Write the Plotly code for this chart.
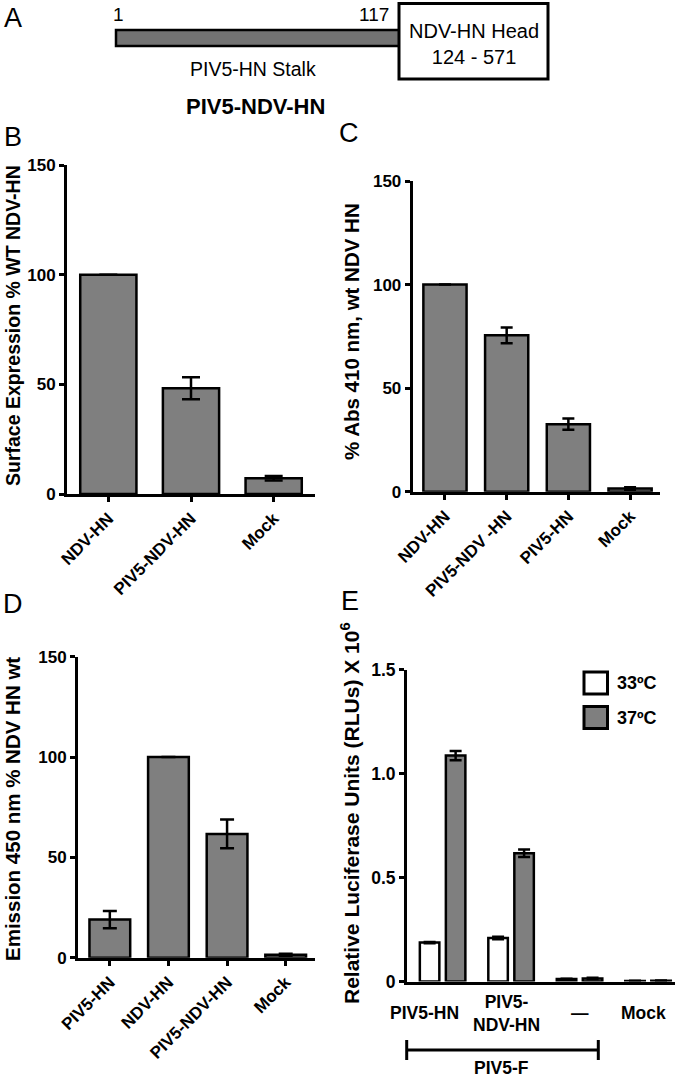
import plotly.graph_objects as go

W, H = 675, 1078
FONT = "Liberation Sans, Arial, sans-serif"

# ---------------- data ----------------
# Panel B: surface expression (% WT NDV-HN)
b_cats = ["NDV-HN", "PIV5-NDV-HN", "Mock"]
b_vals = [100, 48.2, 7.2]
b_err = [0, 5.0, 1.0]

# Panel C: % Abs 410 nm, wt NDV HN
c_cats = ["NDV-HN", "PIV5-NDV -HN", "PIV5-HN", "Mock"]
c_vals = [100, 75.5, 32.6, 1.6]
c_err = [0, 3.8, 2.7, 0.6]

# Panel D: Emission 450 nm % NDV HN wt
d_cats = ["PIV5-HN", "NDV-HN", "PIV5-NDV-HN", "Mock"]
d_vals = [19.0, 100, 61.7, 1.5]
d_err = [4.3, 0, 7.2, 0.5]

# Panel E: relative luciferase units (x 10^6)
e_cats = ["PIV5-HN", "PIV5-NDV-HN", "—", "Mock"]
e_labels = ["PIV5-HN", "PIV5-<br>NDV-HN", "—", "Mock"]
e_series = ["33ºC", "37ºC"]
e_33 = [0.188, 0.21, 0.012, 0.003]
e_33_err = [0.003, 0.006, 0.002, 0.001]
e_37 = [1.087, 0.617, 0.015, 0.004]
e_37_err = [0.022, 0.018, 0.003, 0.001]
e_group_label = "PIV5-F"

pct_ticks = [0, 50, 100, 150]
e_ticks = [0, 0.5, 1.0, 1.5]
e_ticklabels = ["0", "0.5", "1.0", "1.5"]

# Panel A schematic text
a_start, a_stalk_end = "1", "117"
a_head = "NDV-HN Head<br>124 - 571"
a_stalk = "PIV5-HN Stalk"
a_name = "PIV5-NDV-HN"

GRAY = "#7f7f7f"


def fx(p):
    return p / W


def fy(p):
    return 1 - p / H


fig = go.Figure()

bar_line = dict(color="black", width=2.5)


def err(arr, w):
    return dict(type="data", array=arr, visible=True, color="black", thickness=2.5, width=w)


fig.add_trace(go.Bar(x=b_cats, y=b_vals, width=0.68, marker=dict(color=GRAY, line=bar_line),
                     error_y=err(b_err, 9), xaxis="x", yaxis="y", showlegend=False))
fig.add_trace(go.Bar(x=c_cats, y=c_vals, width=0.70, marker=dict(color=GRAY, line=bar_line),
                     error_y=err(c_err, 6), xaxis="x2", yaxis="y2", showlegend=False))
fig.add_trace(go.Bar(x=d_cats, y=d_vals, width=0.695, marker=dict(color=GRAY, line=bar_line),
                     error_y=err(d_err, 7), xaxis="x3", yaxis="y3", showlegend=False))
fig.add_trace(go.Bar(x=e_cats, y=e_33, name=e_series[0], marker=dict(color="white", line=bar_line),
                     error_y=err(e_33_err, 6), xaxis="x4", yaxis="y4", showlegend=False))
fig.add_trace(go.Bar(x=e_cats, y=e_37, name=e_series[1], marker=dict(color=GRAY, line=bar_line),
                     error_y=err(e_37_err, 6), xaxis="x4", yaxis="y4", showlegend=False))

tickfont = dict(family=FONT, size=17, color="black", weight="bold")
common = dict(showline=True, linecolor="black", linewidth=3, showgrid=False, zeroline=False,
              ticks="outside", ticklen=5, tickwidth=2.5, tickcolor="black", tickfont=tickfont,
              automargin=False, fixedrange=True)

fig.update_layout(
    xaxis=dict(common, domain=[fx(67), fx(315)], anchor="y", type="category", range=[-0.5, 2.5],
               tickangle=-45),
    yaxis=dict(common, domain=[fy(494), fy(165)], anchor="x", range=[0, 150], tickvals=pct_ticks),
    xaxis2=dict(common, domain=[fx(412.7), fx(660)], anchor="y2", type="category",
                range=[-0.523, 3.485], tickangle=-45),
    yaxis2=dict(common, domain=[fy(491.7), fy(181)], anchor="x2", range=[0, 150], tickvals=pct_ticks),
    xaxis3=dict(common, domain=[fx(78), fx(315)], anchor="y3", type="category",
                range=[-0.543, 3.50], tickangle=-45),
    yaxis3=dict(common, domain=[fy(957.7), fy(656.7)], anchor="x3", range=[0, 150], tickvals=pct_ticks),
    xaxis4=dict(common, domain=[fx(407), fx(675)], anchor="y4", type="category",
                range=[-0.52, 3.394], ticks="", showticklabels=False),
    yaxis4=dict(common, domain=[fy(981.6), fy(669.7)], anchor="x4", range=[0, 1.5],
                tickvals=e_ticks, ticktext=e_ticklabels,
                tickfont=dict(family=FONT, size=17.5, color="black", weight="bold")),
)

fig.update_layout(
    width=W, height=H, margin=dict(l=0, r=0, t=0, b=0, autoexpand=False),
    paper_bgcolor="white", plot_bgcolor="white",
    barmode="group", bargap=0.24, bargroupgap=0.25,
    showlegend=False,
    font=dict(family=FONT, color="black"),
)

ann = []
shapes = []

# panel letters
for letter, x, y in [("A", 13, 18), ("B", 13, 137), ("C", 349, 133), ("D", 13, 604), ("E", 350, 601)]:
    ann.append(dict(text=letter, x=fx(x), y=fy(y), xref="paper", yref="paper", showarrow=False,
                    xanchor="center", yanchor="middle", font=dict(family=FONT, size=27, color="black")))

# axis titles
for text, x, y, size in [("Surface Expression % WT NDV-HN", 13, 326, 19.5),
                         ("% Abs 410 nm, wt NDV HN", 352, 331, 20.5),
                         ("Emission 450 nm % NDV HN wt", 12, 809, 20.5),
                         ("Relative Luciferase Units (RLUs) X 10<sup>6</sup>", 350, 813, 21)]:
    ann.append(dict(text=text, x=fx(x), y=fy(y), xref="paper", yref="paper", showarrow=False,
                    textangle=-90, xanchor="center", yanchor="middle",
                    font=dict(family=FONT, size=size, color="black", weight="bold")))

# Panel A schematic
shapes.append(dict(type="rect", xref="paper", yref="paper", x0=fx(116), x1=fx(400), y0=fy(46), y1=fy(30),
                   fillcolor="#737373", line=dict(color="black", width=2.5)))
shapes.append(dict(type="rect", xref="paper", yref="paper", x0=fx(399), x1=fx(548), y0=fy(79), y1=fy(3.5),
                   fillcolor="white", line=dict(color="black", width=3)))
for text, x, y, size, weight in [(a_start, 118, 15, 19, "normal"), (a_stalk_end, 374, 15, 19, "normal"),
                                 (a_head, 474, 44, 20, "normal"), (a_stalk, 252.5, 69, 19.5, "normal"),
                                 (a_name, 255, 106, 22, "bold")]:
    ann.append(dict(text=text, x=fx(x), y=fy(y), xref="paper", yref="paper", showarrow=False,
                    xanchor="center", yanchor="middle",
                    font=dict(family=FONT, size=size, color="black", weight=weight)))

# Panel E category labels
for cat, lab, xs in zip(e_cats, e_labels, [-18, -5, 0, -5]):
    ann.append(dict(text=lab, x=cat, xref="x4", y=fy(1013), yref="paper", showarrow=False,
                    xanchor="center", yanchor="middle", xshift=xs,
                    font=dict(family=FONT, size=17.5, color="black", weight="bold")))

# PIV5-F bracket
shapes.append(dict(type="line", xref="paper", yref="paper", x0=fx(406.7), x1=fx(598.3), y0=fy(1050),
                   y1=fy(1050), line=dict(color="black", width=3)))
for xb in (406.7, 598.3):
    shapes.append(dict(type="line", xref="paper", yref="paper", x0=fx(xb), x1=fx(xb), y0=fy(1040),
                       y1=fy(1060), line=dict(color="black", width=3)))
ann.append(dict(text=e_group_label, x=fx(501.7), y=fy(1068), xref="paper", yref="paper", showarrow=False,
                xanchor="center", yanchor="middle",
                font=dict(family=FONT, size=17.5, color="black", weight="bold")))

# Panel E legend
for name, fill, yc in [(e_series[0], "white", 683), (e_series[1], GRAY, 717.5)]:
    shapes.append(dict(type="rect", xref="paper", yref="paper", x0=fx(584), x1=fx(607.5),
                       y0=fy(yc + 11), y1=fy(yc - 11), fillcolor=fill, line=dict(color="black", width=3)))
    ann.append(dict(text=name, x=fx(615), y=fy(yc), xref="paper", yref="paper", showarrow=False,
                    xanchor="left", yanchor="middle",
                    font=dict(family=FONT, size=18, color="black", weight="bold")))

fig.update_layout(annotations=ann, shapes=shapes)

fig.write_html(
    "out.html",
    config=dict(displayModeBar=False),
    post_script="document.body.style.margin='0';document.body.style.padding='0';"
                "document.documentElement.style.overflow='hidden';",
)
